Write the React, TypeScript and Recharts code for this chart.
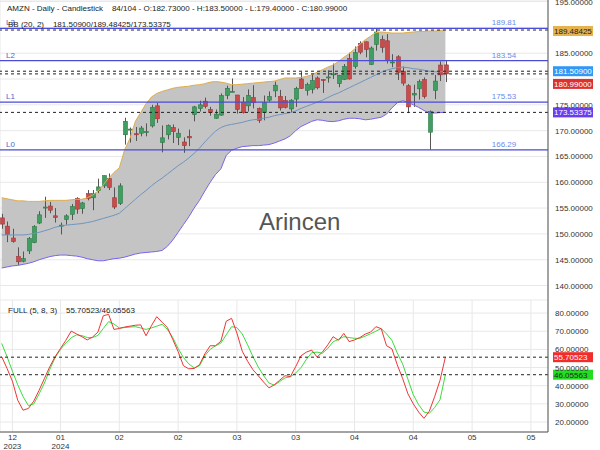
import { ComposedChart, Area, Line, Bar, XAxis, YAxis, CartesianGrid, ReferenceLine } from 'recharts'

const FONT = '"Liberation Sans", Arial, Helvetica, sans-serif'

// daily candles, 29 Dec 2023 .. end of April 2024
const opens = [
  153.1, 151.5, 149.2, 145.6, 144.7, 146.7, 148.3, 152.1, 155.0, 155.4,
  153.5, 151.5, 152.8, 153.8, 156.9, 154.9, 157.8, 157.0, 158.4, 159.3,
  160.7, 157.0, 155.9, 169.2, 170.2, 169.4, 169.5, 169.7, 170.9, 174.8,
  167.7, 169.2, 170.6, 168.7, 167.8, 168.9, 173.1, 174.3, 175.7, 174.1,
  172.4, 173.0, 176.8, 177.5, 176.9, 175.5, 174.8, 176.4, 174.3, 173.5,
  175.9, 177.7, 176.6, 175.8, 174.2, 176.1, 180.0, 177.8, 178.0, 180.2,
  179.9, 180.2, 180.8, 179.1, 179.9, 184.0, 182.4, 186.9, 187.2, 182.8,
  186.7, 187.7, 187.4, 183.3, 184.3, 181.5, 178.7, 176.9, 178.1, 179.9,
  169.7, 177.8, 182.7, 182.73,
]
const highs = [
  153.9, 152.4, 151.0, 147.4, 146.6, 149.4, 151.7, 154.4, 157.2, 156.2,
  155.0, 152.2, 153.8, 155.8, 157.1, 156.2, 158.5, 158.5, 160.7, 161.3,
  161.7, 159.0, 159.8, 172.5, 170.6, 170.7, 170.9, 171.4, 175.0, 175.4,
  171.0, 171.2, 171.2, 170.4, 168.7, 170.2, 174.8, 175.8, 176.4, 174.6,
  174.1, 177.2, 178.7, 180.1, 176.9, 176.5, 178.0, 178.8, 174.5, 176.8,
  177.6, 179.5, 177.9, 176.7, 176.1, 178.5, 181.4, 179.3, 181.0, 180.5,
  180.0, 181.7, 183.0, 180.8, 182.9, 185.1, 186.3, 187.3, 187.3, 186.3,
  189.8, 188.4, 188.7, 184.8, 184.6, 182.4, 179.0, 178.9, 179.9, 180.3,
  173.9, 180.8, 183.4, 183.5,
]
const lows = [
  151.0, 148.4, 148.3, 144.0, 144.5, 146.1, 148.2, 151.9, 153.1, 154.0,
  152.2, 149.9, 151.8, 152.7, 153.9, 153.9, 156.5, 154.6, 157.9, 158.9,
  158.5, 154.8, 155.6, 167.3, 167.7, 168.0, 168.9, 168.9, 170.6, 171.5,
  165.8, 168.3, 167.6, 167.2, 165.7, 167.0, 171.8, 173.7, 174.3, 172.9,
  172.3, 172.9, 176.1, 177.5, 173.3, 173.3, 173.7, 174.3, 171.5, 172.0,
  175.6, 176.5, 173.9, 174.3, 173.5, 174.6, 178.1, 176.8, 177.2, 178.0,
  177.3, 179.3, 180.0, 178.4, 179.8, 179.9, 182.0, 184.8, 184.2, 182.7,
  185.5, 185.1, 183.0, 182.3, 179.8, 178.7, 173.4, 174.6, 176.0, 176.2,
  166.3, 176.1, 179.6, 179.4,
]
const closes = [
  151.9, 149.9, 148.5, 144.6, 145.2, 149.1, 151.4, 153.7, 155.2, 154.6,
  153.2, 151.7, 153.5, 155.3, 154.8, 156.0, 156.9, 157.8, 159.1, 161.3,
  159.0, 155.2, 159.3, 171.8, 170.3, 169.2, 170.5, 169.8, 174.5, 172.3,
  168.6, 171.0, 169.8, 169.5, 167.1, 168.6, 174.6, 175.0, 174.7, 173.5,
  173.2, 176.8, 178.2, 177.6, 174.1, 173.5, 176.8, 175.4, 172.0, 175.4,
  176.6, 178.8, 174.4, 174.5, 175.9, 178.2, 178.2, 178.9, 179.7, 178.3,
  179.8, 180.4, 181.0, 180.7, 182.4, 180.0, 185.1, 185.2, 185.7, 186.0,
  189.1, 186.1, 183.6, 183.3, 181.3, 179.2, 174.6, 177.2, 179.5, 176.6,
  173.7, 179.6, 180.8, 180.99,
]

// Bollinger (20, 2)
const bbUpper = [
  157.0, 156.8, 156.6, 156.4, 156.4, 156.3, 156.3, 156.3, 156.4, 156.5,
  156.5, 156.5, 156.5, 156.6, 156.7, 156.7, 157.0, 157.5, 158.3, 159.5,
  160.8, 161.9, 162.8, 166.3, 168.5, 171.8, 173.5, 175.2, 176.5, 177.2,
  177.6, 177.9, 178.2, 178.4, 178.5, 178.6, 178.8, 178.9, 179.1, 179.4,
  179.5, 179.4, 179.2, 178.9, 178.9, 179.0, 179.1, 179.2, 179.3, 179.4,
  179.5, 179.6, 179.9, 180.2, 180.2, 180.2, 180.3, 180.5, 180.8, 181.3,
  181.8, 182.3, 182.7, 183.4, 184.2, 184.9, 185.8, 186.7, 187.6, 188.3,
  189.0, 189.1, 189.0, 188.9, 188.9, 188.9, 189.0, 189.1, 189.2, 189.2,
  189.3, 189.3, 189.4, 189.48425,
]
const bbMiddle = [
  149.8, 149.8, 149.8, 149.8, 149.8, 149.9, 150.1, 150.3, 150.6, 150.9,
  151.3, 151.5, 151.7, 151.8, 151.9, 152.0, 152.2, 152.4, 152.7, 153.0,
  153.3, 153.6, 154.0, 154.9, 155.8, 156.7, 157.6, 158.4, 159.3, 160.1,
  160.8, 161.6, 162.4, 163.2, 163.9, 164.7, 165.6, 166.6, 167.8, 168.9,
  169.9, 170.6, 171.0, 171.2, 171.4, 171.6, 171.9, 172.1, 172.2, 172.4,
  172.6, 172.9, 173.1, 173.3, 173.5, 173.8, 174.3, 174.7, 175.1, 175.5,
  175.9, 176.4, 176.9, 177.3, 177.8, 178.3, 178.8, 179.3, 179.8, 180.3,
  180.8, 181.3, 181.7, 182.0, 182.2, 182.3, 182.2, 182.0, 181.9, 181.7,
  181.5, 181.4, 181.4, 181.509,
]
const bbLower = [
  143.4, 143.6, 143.8, 143.9, 144.1, 144.3, 144.6, 145.0, 145.3, 145.6,
  145.8, 145.9, 145.9, 145.8, 145.7, 145.5, 145.2, 145.0, 144.8, 144.8,
  145.0, 145.2, 145.3, 145.5, 145.8, 146.1, 146.3, 146.4, 146.5, 146.6,
  146.8, 147.6, 148.8, 150.3, 151.8, 153.3, 155.0, 156.5, 158.3, 160.0,
  161.5, 162.6, 165.2, 166.2, 166.6, 166.9, 167.0, 167.1, 167.1, 167.2,
  167.3, 167.6, 168.0, 168.4, 169.0, 170.0, 170.8, 171.3, 171.8, 172.1,
  172.0, 171.8, 171.75, 171.9, 172.2, 172.4, 172.4, 172.3, 172.1, 172.2,
  172.4, 172.6, 173.2, 174.4, 175.4, 175.8, 175.5, 175.0, 174.5, 173.9,
  173.4, 173.4, 173.5, 173.53375,
]

// Stochastic FULL (5, 8, 3)
const stochK = [
  56.0, 49.5, 42.5, 32.0, 26.5, 27.5, 31.5, 37.5, 44.0, 50.5,
  56.0, 60.5, 65.0, 70.1, 68.5, 67.0, 65.2, 66.8, 69.5, 78.5,
  79.3, 71.0, 71.5, 72.3, 72.8, 73.3, 73.5, 67.5, 73.0, 78.0,
  75.0, 72.0, 65.5, 58.8, 51.0, 49.3, 49.5, 51.5, 57.5, 62.0,
  62.0, 64.5, 75.5, 77.1, 69.0, 59.0, 53.5, 48.8, 45.5, 42.0,
  38.8, 40.5, 43.0, 45.5, 45.0, 50.5, 56.5, 58.5, 59.6, 55.8,
  58.5, 62.5, 67.0, 65.0, 68.8, 64.3, 65.2, 66.5, 68.4, 69.5,
  72.5, 71.4, 62.0, 60.3, 51.5, 44.0, 35.5, 30.0, 25.5, 22.0,
  26.0, 34.0, 43.0, 55.70523,
]
const stochD = [
  63.3, 56.0, 48.0, 40.5, 34.0, 29.0, 30.0, 35.5, 41.5, 49.0,
  55.5, 60.0, 63.5, 66.4, 68.0, 67.6, 66.5, 66.5, 67.7, 71.5,
  75.3, 74.0, 71.8, 72.0, 72.3, 72.5, 71.8, 71.0, 71.8, 72.8,
  73.8, 71.0, 66.5, 60.5, 55.5, 52.0, 49.8, 51.0, 56.5, 60.0,
  62.0, 63.5, 68.0, 72.5, 72.0, 68.5, 62.5, 56.0, 50.3, 45.5,
  41.5, 40.3, 42.3, 44.3, 44.9, 47.0, 50.0, 54.5, 58.2, 58.5,
  57.9, 60.5, 64.2, 65.5, 67.0, 66.5, 66.1, 66.1, 67.3, 68.6,
  70.0, 71.5, 68.5, 65.0, 58.0, 52.0, 43.5, 35.0, 29.5, 25.5,
  24.8, 28.0, 32.3, 46.05563,
]

const xTickIdx = [2, 11, 22, 33, 44, 55, 66, 77, 88, 99]
const xTickMonth = ['12', '01', '02', '02', '03', '03', '04', '04', '05', '05']
const xTickYear = ['2023', '2024', '', '', '', '', '', '', '', '']

const levelNames = ['L3', 'L2', 'L1', 'L0']
const levelValues = [189.81, 183.54, 175.53, 166.29]

const priceTicks = [140, 145, 150, 155, 160, 165, 170, 175, 180, 185, 190, 195]
const oscTicks = [20, 30, 40, 50, 60, 70, 80]

const rows = opens.map((o, i) => ({
  i,
  open: o,
  high: highs[i],
  low: lows[i],
  close: closes[i],
  bbU: bbUpper[i],
  bbM: bbMiddle[i],
  bbL: bbLower[i],
  k: stochK[i],
  d: stochD[i],
}))

const X_DOMAIN = [-0.318, 102.2]

function Candle(props: any) {
  const { x, y, width, height, payload } = props
  if (height == null || !payload) return null
  const { open, close, high, low } = payload
  const cx = Math.round(x + width / 2) + 0.5
  const k = height / (high - low)
  const yo = y + (high - open) * k
  const yc = y + (high - close) * k
  const up = close >= open
  const top = Math.min(yo, yc)
  const h = Math.max(Math.abs(yo - yc), 1)
  return (
    <g>
      <line x1={cx} x2={cx} y1={y} y2={y + height} stroke="#555" strokeWidth={1} />
      <rect
        x={cx - 2}
        y={top}
        width={4}
        height={h}
        fill={up ? '#3f9e60' : '#c94c4c'}
        stroke={up ? '#2c7a48' : '#a03838'}
        strokeWidth={0.6}
      />
    </g>
  )
}

const yTick = (skip: number[]) => (p: any) => {
  const v = p.payload.value
  if (skip.includes(v)) return <g />
  return (
    <text x={p.x} y={p.y} dy={3} fontSize={8} fill="#333" fontFamily={FONT} textAnchor="start">
      {Number(v).toFixed(5)}
    </text>
  )
}

function XTick(p: any) {
  const n = xTickIdx.indexOf(p.payload.value)
  return (
    <g>
      <text x={p.x} y={p.y + 8} textAnchor="middle" fontSize={8} fill="#333" fontFamily={FONT}>
        {xTickMonth[n]}
      </text>
      {xTickYear[n] ? (
        <text x={p.x} y={p.y + 17} textAnchor="middle" fontSize={8} fill="#333" fontFamily={FONT}>
          {xTickYear[n]}
        </text>
      ) : null}
    </g>
  )
}

const levelLabel = (name: string, val: number) => (props: any) => {
  const { x, y, width } = props.viewBox
  return (
    <g fontFamily={FONT} fontSize={8}>
      <text x={x + 6} y={y - 3} fill="#4f63d2">{name}</text>
      <text x={x + width - 44} y={y - 3} fill="#6d8be8" textAnchor="middle">{val.toFixed(2)}</text>
    </g>
  )
}

const badge = (text: string, bg: string, fg: string, dy = 0) => (props: any) => {
  const { x, y, width } = props.viewBox
  return (
    <g>
      <rect x={x + width + 5} y={y - 5 + dy} width={40} height={10} fill={bg} />
      <text x={x + width + 6} y={y + 3 + dy} fontSize={8} fill={fg} fontFamily={FONT}>{text}</text>
    </g>
  )
}

const dashedLines = [
  { v: 189.48425, bg: '#e4b24e', fg: '#222', dy: 1 },
  { v: 181.509, bg: '#3398f5', fg: '#fff', dy: 0 },
  { v: 180.99, bg: '#dd3030', fg: '#fff', dy: 10 },
  { v: 173.53375, bg: '#6a3cf0', fg: '#fff', dy: 0 },
]

export default function App() {
  return (
    <div style={{ position: 'absolute', left: 0, top: 0, width: 600, height: 450, background: '#fff', fontFamily: FONT, overflow: 'hidden' }}>
      <div style={{ position: 'absolute', left: 0, top: 0 }}>
        <ComposedChart width={600} height={300} data={rows} margin={{ top: 0, right: 0, bottom: 0, left: 0 }}>
          <CartesianGrid stroke="#e8e8e8" />
          <XAxis
            dataKey="i"
            type="number"
            domain={X_DOMAIN}
            ticks={xTickIdx}
            allowDataOverflow
            interval={0}
            tick={false}
            tickLine={false}
            height={0}
            axisLine={{ stroke: '#555' }}
          />
          <YAxis
            orientation="right"
            width={52}
            domain={[137.2, 195.3]}
            ticks={priceTicks}
            allowDataOverflow
            interval={0}
            tick={yTick([180, 190])}
            tickSize={0}
            tickMargin={7}
            axisLine={{ stroke: '#555' }}
          />
          <Area
            dataKey={(d: any) => [d.bbL, d.bbU]}
            fill="#c4c4c4"
            fillOpacity={1}
            stroke="none"
            dot={false}
            activeDot={false}
            isAnimationActive={false}
          />
          <Line dataKey="bbU" stroke="#e0ad4a" strokeWidth={1} dot={false} activeDot={false} isAnimationActive={false} />
          <Line dataKey="bbL" stroke="#7766ee" strokeWidth={1} dot={false} activeDot={false} isAnimationActive={false} />
          <Line dataKey="bbM" stroke="#6f95bf" strokeWidth={1} dot={false} activeDot={false} isAnimationActive={false} />
          <Bar dataKey={(d: any) => [d.low, d.high]} shape={Candle} barSize={4} isAnimationActive={false} />
          {levelValues.map((v, n) => (
            <ReferenceLine key={levelNames[n]} y={v} stroke="#4b4bd6" strokeWidth={1.2} label={levelLabel(levelNames[n], v)} />
          ))}
          {dashedLines.map((l) => (
            <ReferenceLine
              key={l.v}
              y={l.v}
              stroke="#222"
              strokeDasharray="3 3"
              label={badge(l.v.toFixed(5), l.bg, l.fg, l.dy)}
            />
          ))}
        </ComposedChart>
      </div>
      <div style={{ position: 'absolute', left: 0, top: 300 }}>
        <ComposedChart width={600} height={150} data={rows} margin={{ top: 0, right: 0, bottom: 0, left: 0 }}>
          <CartesianGrid stroke="#e8e8e8" />
          <XAxis
            dataKey="i"
            type="number"
            domain={X_DOMAIN}
            ticks={xTickIdx}
            allowDataOverflow
            interval={0}
            tick={XTick}
            tickLine={false}
            tickSize={0}
            tickMargin={0}
            height={18}
            axisLine={{ stroke: '#555' }}
          />
          <YAxis
            orientation="right"
            width={52}
            domain={[14.5, 87.2]}
            ticks={oscTicks}
            allowDataOverflow
            interval={0}
            tick={yTick([])}
            tickSize={0}
            tickMargin={7}
            axisLine={{ stroke: '#555' }}
          />
          <Line dataKey="d" stroke="#3ddc3d" strokeWidth={1} dot={false} activeDot={false} isAnimationActive={false} />
          <Line dataKey="k" stroke="#ee3535" strokeWidth={1} dot={false} activeDot={false} isAnimationActive={false} />
          <ReferenceLine y={55.70523} stroke="#222" strokeDasharray="3 3" label={badge('55.70523', '#f22b2b', '#fff')} />
          <ReferenceLine y={46.05563} stroke="#222" strokeDasharray="3 3" label={badge('46.05563', '#22dd22', '#222')} />
        </ComposedChart>
      </div>
      <div style={{ position: 'absolute', left: 7, top: 4, fontSize: 8, lineHeight: '10px', whiteSpace: 'pre', color: '#222' }}>
        {'AMZN - Daily - Candlestick    84/104 - O:182.73000 - H:183.50000 - L:179.40000 - C:180.99000'}
      </div>
      <div style={{ position: 'absolute', left: 8, top: 20, fontSize: 8, lineHeight: '10px', whiteSpace: 'pre', color: '#222' }}>
        {'BB (20, 2)    181.50900/189.48425/173.53375'}
      </div>
      <div style={{ position: 'absolute', left: 8, top: 306, fontSize: 8, lineHeight: '10px', whiteSpace: 'pre', color: '#222' }}>
        {'FULL (5, 8, 3)    55.70523/46.05563'}
      </div>
      <div style={{ position: 'absolute', left: 259, top: 208, fontSize: 24, lineHeight: '28px', color: '#555' }}>
        Arincen
      </div>
    </div>
  )
}
